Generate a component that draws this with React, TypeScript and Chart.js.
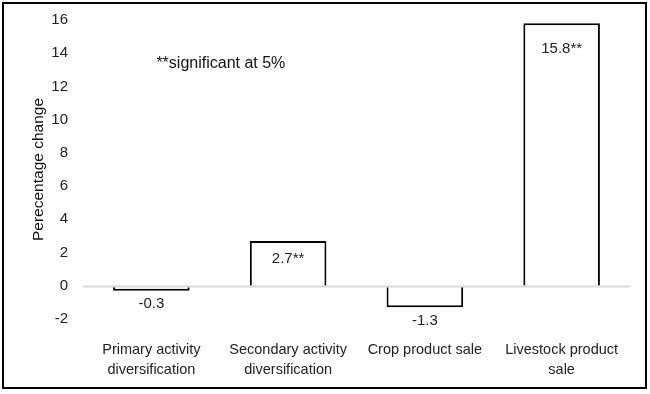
import React, { useEffect, useRef } from "react";
import { Chart, registerables } from "chart.js";

Chart.register(...registerables);

const categories: string[][] = [
  ["Primary activity", "diversification"],
  ["Secondary activity", "diversification"],
  ["Crop product sale"],
  ["Livestock product", "sale"],
];
const values: number[] = [-0.3, 2.7, -1.3, 15.8];
const valueLabels: string[] = ["-0.3", "2.7**", "-1.3", "15.8**"];
const yTicks: number[] = [-2, 0, 2, 4, 6, 8, 10, 12, 14, 16];
const note = "**significant at 5%";
const yTitle = "Perecentage change";

const FONT = "'Liberation Sans', Arial, sans-serif";

const decorPlugin = {
  id: "decor",
  beforeDraw(chart: any) {
    const ctx = chart.ctx;
    ctx.save();
    ctx.fillStyle = "#ffffff";
    ctx.fillRect(0, 0, chart.width, chart.height);
    ctx.restore();
  },
  afterDatasetsDraw(chart: any) {
    const ctx = chart.ctx;
    const y = chart.scales.y;
    const area = chart.chartArea;
    ctx.save();
    const y0 = Math.round(y.getPixelForValue(0)) + 0.5;
    ctx.strokeStyle = "#d9d9d9";
    ctx.lineWidth = 2;
    ctx.beginPath();
    ctx.moveTo(area.left, y0);
    ctx.lineTo(area.right, y0);
    ctx.stroke();
    const meta = chart.getDatasetMeta(0);
    ctx.fillStyle = "#222";
    ctx.font = `15px ${FONT}`;
    ctx.textAlign = "center";
    ctx.textBaseline = "middle";
    meta.data.forEach((bar: any, i: number) => {
      const v = values[i];
      const yy = v >= 0 ? bar.y + (v > 10 ? 26 : 18) : bar.y + 13;
      ctx.fillText(valueLabels[i], bar.x, yy);
    });
    ctx.font = `16px ${FONT}`;
    ctx.textAlign = "left";
    ctx.fillStyle = "#111";
    const xs = chart.scales.x;
    ctx.fillText(note, xs.getPixelForValue(0) + 5, y.getPixelForValue(13.4));
    ctx.strokeStyle = "#000";
    ctx.lineWidth = 2;
    ctx.strokeRect(3, 3, 643, 385);
    ctx.restore();
  },
};

export default function App() {
  const ref = useRef<HTMLCanvasElement | null>(null);
  useEffect(() => {
    document.body.style.margin = "0";
    const canvas = ref.current!;
    const chart = new Chart(canvas, {
      type: "bar",
      data: {
        labels: categories,
        datasets: [
          {
            data: values,
            backgroundColor: "#ffffff",
            borderColor: "#000000",
            borderWidth: 2,
            borderSkipped: "start",
            barPercentage: 0.56,
            categoryPercentage: 1,
          },
        ],
      },
      options: {
        responsive: false,
        animation: false,
        devicePixelRatio: 1,
        layout: { padding: { left: 28, right: 20, top: 20, bottom: 0 } },
        plugins: {
          legend: { display: false },
          tooltip: { enabled: false },
        },
        scales: {
          x: {
            grid: { display: false, drawTicks: false },
            border: { display: false },
            afterFit: (axis: any) => {
              axis.height = 75;
            },
            ticks: {
              color: "#222",
              font: { family: FONT, size: 14.5, lineHeight: 1.36 },
              padding: 21,
              maxRotation: 0,
              autoSkip: false,
            },
          },
          y: {
            min: -2,
            max: 16,
            afterBuildTicks: (axis: any) => {
              axis.ticks = yTicks.map((v) => ({ value: v }));
            },
            afterFit: (axis: any) => {
              axis.width = 55;
              axis.paddingTop = 0;
              axis.paddingBottom = 0;
            },
            grid: { display: false, drawTicks: false },
            border: { display: false },
            ticks: {
              color: "#222",
              font: { family: FONT, size: 15 },
              padding: 15,
            },
            title: {
              display: true,
              text: yTitle,
              color: "#111",
              font: { family: FONT, size: 15.5 },
              padding: { top: 1, bottom: 4 },
            },
          },
        },
      },
      plugins: [decorPlugin],
    });
    return () => chart.destroy();
  }, []);
  return <canvas ref={ref} width={650} height={394} style={{ display: "block" }} />;
}
